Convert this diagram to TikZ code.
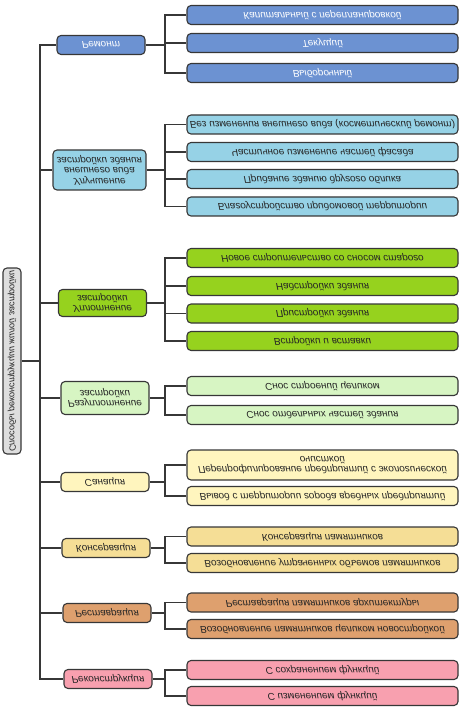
\documentclass[tikz,border=0pt]{standalone}
\usepackage{fontspec}
\newfontfamily\gost{Liberation Sans}
\newcommand\boxfont{\gost\itshape\fontsize{10}{10.5}\selectfont}

\definecolor{linecol}{RGB}{55,55,55}
\definecolor{remcol}{RGB}{108,146,210}
\definecolor{ulucol}{RGB}{150,210,230}
\definecolor{uplcol}{RGB}{150,210,30}
\definecolor{razcol}{RGB}{215,245,195}
\definecolor{sancol}{RGB}{255,245,190}
\definecolor{koncol}{RGB}{245,222,150}
\definecolor{rescol}{RGB}{222,160,110}
\definecolor{rekcol}{RGB}{248,160,175}
\definecolor{rootcol}{RGB}{222,222,222}

\begin{document}
\begin{tikzpicture}[x=1pt, y=1pt, yscale=-1, line width=1.1pt]
	\tikzset{
		box/.style={draw=linecol, rounded corners=4pt, inner sep=1pt, minimum height=19pt,
			align=center, font=\boxfont, text=black!85, transform shape},
		grp/.style={box, minimum width=88pt},
		kid/.style={box, minimum width=271pt},
		wire/.style={draw=linecol}
	}
	\useasboundingbox (0,0) rectangle (469,711);

	\node[box, fill=rootcol, rotate=-90, minimum width=186pt, minimum height=18pt,
		font=\gost\itshape\fontsize{9}{10}\selectfont] (root) at (12,361) {Способы реконструкции жилой застройки};
	\coordinate (tr) at (40,361);

	% первый уровень
	\node[grp, fill=remcol, text=white] (rem) at (101,45) {Ремонт};
	\node[grp, fill=ulucol, minimum width=93pt, minimum height=40pt] (ulu) at (99.5,170) {Улучшение\\внешнего вида\\застройки здания};
	\node[grp, fill=uplcol, minimum height=27pt] (upl) at (102.5,303) {Уплотнение\\застройки};
	\node[grp, fill=razcol, minimum height=33pt] (raz) at (105,398) {Разуплотнение\\застройки};
	\node[grp, fill=sancol] (san) at (105,482) {Санация};
	\node[grp, fill=koncol] (kon) at (106,548) {Консервация};
	\node[grp, fill=rescol] (res) at (107,613) {Реставрация};
	\node[grp, fill=rekcol] (rek) at (108,679) {Реконструкция};

	% второй уровень
	\node[kid, fill=remcol, text=white] (rem1) at (322.5,15) {Капитальный с перепланировкой};
	\node[kid, fill=remcol, text=white] (rem2) at (322.5,43) {Текущий};
	\node[kid, fill=remcol, text=white] (rem3) at (322.5,73) {Выборочный};

	\node[kid, fill=ulucol] (ulu1) at (322.5,124.5) {Без изменения внешнего вида (косметический ремонт)};
	\node[kid, fill=ulucol] (ulu2) at (322.5,152) {Частичное изменение частей фасада};
	\node[kid, fill=ulucol] (ulu3) at (322.5,179) {Придание зданию другого облика};
	\node[kid, fill=ulucol] (ulu4) at (322.5,206.5) {Благоустройство придомовой территории};

	\node[kid, fill=uplcol] (upl1) at (322.5,258) {Новое строительство со сносом старого};
	\node[kid, fill=uplcol] (upl2) at (322.5,286) {Надстройки здания};
	\node[kid, fill=uplcol] (upl3) at (322.5,313.5) {Пристройки здания};
	\node[kid, fill=uplcol] (upl4) at (322.5,341) {Встройки и вставки};

	\node[kid, fill=razcol] (raz1) at (322.5,386) {Снос строений целиком};
	\node[kid, fill=razcol] (raz2) at (322.5,415) {Снос отдельных частей здания};

	\node[kid, fill=sancol, minimum height=30pt] (san1) at (322.5,465) {Перепрофилирование предприятий с экологической\\очисткой};
	\node[kid, fill=sancol] (san2) at (322.5,496) {Вывод с территории города вредных предприятий};

	\node[kid, fill=koncol] (kon1) at (322.5,536.5) {Консервация памятников};
	\node[kid, fill=koncol] (kon2) at (322.5,563) {Возобновление утраченных объемов памятников};

	\node[kid, fill=rescol] (res1) at (322.5,602.5) {Реставрация памятников архитектуры};
	\node[kid, fill=rescol] (res2) at (322.5,629) {Возобновление памятников целиком новостройкой};

	\node[kid, fill=rekcol] (rek1) at (322.5,670) {С сохранением функций};
	\node[kid, fill=rekcol] (rek2) at (322.5,696) {С изменением функций};

	% ствол
	\draw[wire] (root) -- (tr);
	\foreach \g in {rem,ulu,upl,raz,san,kon,res,rek}
		\draw[wire] (tr) |- (\g);

	% ветви
	\foreach \g/\n in {rem/3,ulu/4,upl/4,raz/2,san/2,kon/2,res/2,rek/2} {
		\coordinate (\g j) at (165,0 |- \g.east);
		\draw[wire] (\g) -- (\g j);
		\foreach \k in {1,...,\n}
			\draw[wire] (\g j) |- (\g\k);
	}
\end{tikzpicture}
\end{document}
